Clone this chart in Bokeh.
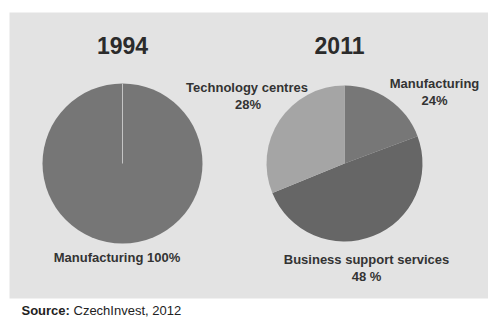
import math
from bokeh.plotting import figure
from bokeh.models import Range1d, ColumnDataSource
from bokeh.core.properties import value
from bokeh.embed import file_html
from bokeh.resources import INLINE

# ---- data ----
years = ["1994", "2011"]
cats_1994 = ["Manufacturing"]
vals_1994 = [100.0]
labels_1994 = ["Manufacturing 100%"]

cats_2011 = ["Manufacturing", "Business support services", "Technology centres"]
# slice sizes as drawn in the picture
vals_2011 = [19.3, 49.5, 31.2]
# label texts as printed
labels_2011_name = ["Manufacturing", "Business support services", "Technology centres"]
labels_2011_pct = ["24%", "48 %", "28%"]
source_bold = "Source:"
source_rest = "CzechInvest, 2012"

colors_1994 = ["#767676"]
colors_2011 = ["#777777", "#666666", "#a5a5a5"]

FONT = value("Liberation Sans")
W, H = 488, 318

p = figure(width=W, height=H, output_backend="svg", toolbar_location=None,
           x_range=Range1d(0, W), y_range=Range1d(H, 0),
           min_border=0, background_fill_color="white", border_fill_color="white")
p.axis.visible = False
p.grid.visible = False
p.outline_line_color = None

# panel
p.quad(left=9, right=W, top=12, bottom=298, fill_color="#e3e3e3", line_color=None)


def pie(cx, cy, r, vals, colors):
    total = sum(vals)
    starts, ends, cs = [], [], []
    a = math.pi / 2
    for v, c in zip(vals, colors):
        if v >= total:
            # full circle slice
            p.scatter(x=[cx], y=[cy], size=2 * r, marker="circle",
                      fill_color=c, line_color=None)
            starts.append(a)
            ends.append(a - 2 * math.pi)
            continue
        starts.append(a)
        a -= 2 * math.pi * v / total
        ends.append(a)
        cs.append(c)
    if cs:
        n = len(cs)
        src = ColumnDataSource(dict(s=starts[:n], e=ends[:n], c=cs))
        p.wedge(x=cx, y=cy, radius=r, start_angle="s", end_angle="e", direction="clock",
                fill_color="c", line_color=None, source=src)
    return starts


# 1994 pie
c1 = (122, 163)
r1 = 80
s1 = pie(c1[0], c1[1], r1, vals_1994, colors_1994)
# boundary line of the single slice
p.segment(x0=[c1[0]], y0=[c1[1]],
          x1=[c1[0] + r1 * math.cos(a) for a in s1],
          y1=[c1[1] - r1 * math.sin(a) for a in s1],
          line_color="#c4c4c4", line_width=1)

# 2011 pie
c2 = (344, 163)
pie(c2[0], c2[1], 78, vals_2011, colors_2011)

# titles
p.text(x=[122, 339], y=[45, 45], text=years, text_font=FONT, text_font_style="bold",
       text_font_size="23px", text_color="#2b2b2b", text_align="center",
       text_baseline="alphabetic")

lab_style = dict(text_font=FONT, text_font_style="bold", text_font_size="13px",
                 text_color="#333333", text_align="center", text_baseline="alphabetic")

p.text(x=[116.5], y=[257], text=labels_1994, **lab_style)
# 2011 labels: Manufacturing, Business, Technology
p.text(x=[434, 366, 246.5], y=[83, 259, 86.5], text=labels_2011_name, **lab_style)
p.text(x=[434, 366, 247.5], y=[100, 276, 103.5], text=labels_2011_pct, **lab_style)

# source
p.text(x=[21], y=[310], text=[source_bold], text_font=FONT, text_font_style="bold",
       text_font_size="13px", text_color="#222222", text_baseline="alphabetic")
p.text(x=[73], y=[310], text=[source_rest], text_font=FONT,
       text_font_size="13px", text_color="#222222", text_baseline="alphabetic")

open("out.html", "w").write(file_html(p, INLINE))
